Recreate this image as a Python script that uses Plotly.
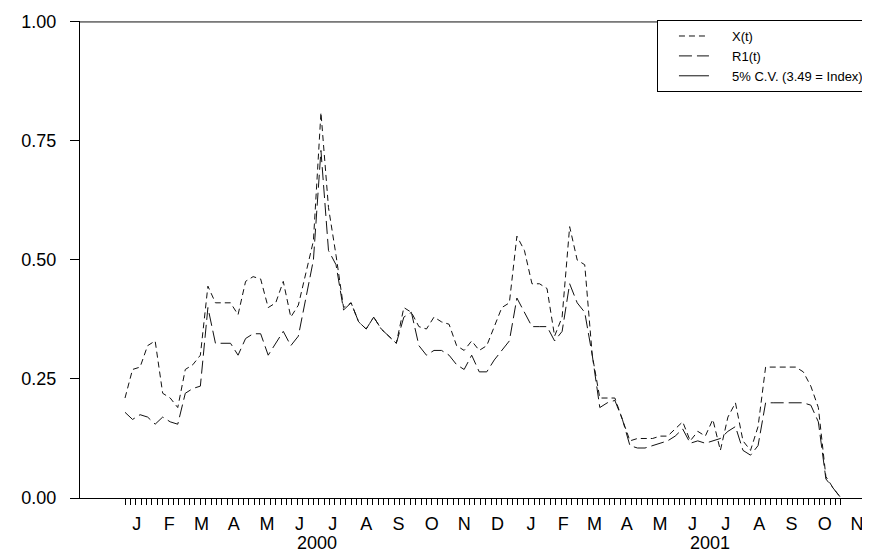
import pandas as pd
import plotly.graph_objects as go

# ---------------- data ----------------
start_date = "2000-01-05"
end_date = "2001-10-31"
n_weeks = 96

x_t = [0.21, 0.27, 0.275, 0.32, 0.33, 0.22, 0.21, 0.19, 0.27, 0.28,
       0.30, 0.445, 0.41, 0.41, 0.41, 0.385, 0.455, 0.465, 0.46, 0.40,
       0.41, 0.455, 0.38, 0.405, 0.47, 0.54, 0.81, 0.61, 0.51, 0.40,
       0.41, 0.37, 0.355, 0.38, 0.355, 0.34, 0.325, 0.40, 0.39, 0.36,
       0.355, 0.38, 0.37, 0.365, 0.32, 0.31, 0.33, 0.31, 0.32, 0.36,
       0.40, 0.41, 0.55, 0.52, 0.45, 0.45, 0.44, 0.34, 0.38, 0.57,
       0.50, 0.49, 0.30, 0.21, 0.21, 0.21, 0.165, 0.12, 0.125, 0.125,
       0.125, 0.13, 0.13, 0.145, 0.16, 0.12, 0.14, 0.13, 0.165, 0.10,
       0.17, 0.20, 0.12, 0.10, 0.15, 0.275, 0.275, 0.275, 0.275, 0.275,
       0.265, 0.235, 0.19, 0.045, 0.02, 0.0]

r1_t = [0.18, 0.165, 0.175, 0.17, 0.155, 0.17, 0.16, 0.155, 0.22, 0.23,
        0.235, 0.40, 0.325, 0.325, 0.325, 0.30, 0.335, 0.345, 0.345, 0.30,
        0.325, 0.35, 0.32, 0.34, 0.42, 0.50, 0.73, 0.52, 0.49, 0.395,
        0.41, 0.37, 0.355, 0.38, 0.355, 0.34, 0.325, 0.38, 0.39, 0.32,
        0.30, 0.31, 0.31, 0.30, 0.28, 0.27, 0.30, 0.265, 0.265, 0.29,
        0.31, 0.33, 0.42, 0.39, 0.36, 0.36, 0.36, 0.33, 0.35, 0.45,
        0.41, 0.39, 0.30, 0.19, 0.20, 0.205, 0.165, 0.11, 0.105, 0.105,
        0.11, 0.115, 0.12, 0.13, 0.145, 0.115, 0.12, 0.115, 0.12, 0.125,
        0.14, 0.15, 0.10, 0.09, 0.11, 0.20, 0.20, 0.20, 0.20, 0.20,
        0.20, 0.195, 0.16, 0.04, 0.02, 0.0]

cv_level = 1.0

series_names = ["X(t)", "R1(t)", "5% C.V. (3.49 = Index)"]

month_labels = ["J", "F", "M", "A", "M", "J", "J", "A", "S", "O", "N", "D",
                "J", "F", "M", "A", "M", "J", "J", "A", "S", "O", "N"]
month_dates = ["2000-01-16", "2000-02-15", "2000-03-16", "2000-04-15", "2000-05-16",
               "2000-06-15", "2000-07-16", "2000-08-16", "2000-09-15", "2000-10-16",
               "2000-11-15", "2000-12-16", "2001-01-16", "2001-02-15", "2001-03-16",
               "2001-04-15", "2001-05-16", "2001-06-15", "2001-07-16", "2001-08-16",
               "2001-09-15", "2001-10-16", "2001-11-15"]
year_labels = ["2000", "2001"]
year_dates = ["2000-07-01", "2001-07-01"]

y_ticks = [0.0, 0.25, 0.5, 0.75, 1.0]
y_ticktext = ["0.00", "0.25", "0.50", "0.75", "1.00"]

# ---------------- figure ----------------
dates = pd.date_range(start_date, periods=n_weeks, freq="7D")
tick_dates = pd.date_range(start_date, end_date, freq="5D")
x_lo = pd.Timestamp("2000-01-01") - pd.Timedelta(days=37.8)
x_hi = pd.Timestamp("2000-01-01") + pd.Timedelta(days=703.4)

FONT = "Liberation Sans, Arial, sans-serif"
LINE = "#111111"
PAD = "\u00a0" * 5  # gap between legend sample and its text

fig = go.Figure()
fig.add_trace(go.Scatter(x=dates, y=x_t, mode="lines", name=PAD + series_names[0],
                         line=dict(color=LINE, width=1, dash="6px,4px")))
fig.add_trace(go.Scatter(x=dates, y=r1_t, mode="lines", name=PAD + series_names[1],
                         line=dict(color=LINE, width=1, dash="13px,5px")))
fig.add_trace(go.Scatter(x=[x_lo, x_hi], y=[cv_level, cv_level], mode="lines",
                         name=PAD + series_names[2],
                         line=dict(color=LINE, width=1)))
# invisible trace to carry the month label axis
fig.add_trace(go.Scatter(x=[dates[0]], y=[0], xaxis="x2", mode="lines",
                         showlegend=False, hoverinfo="skip",
                         line=dict(color="rgba(0,0,0,0)")))

for lab, d in zip(year_labels, year_dates):
    fig.add_annotation(x=d, xref="x", y=0, yref="paper", yshift=-45,
                       text=lab, showarrow=False, yanchor="middle",
                       font=dict(family=FONT, size=18, color="#000"))

fig.update_layout(
    width=870, height=552,
    margin=dict(l=72, r=0, t=13, b=62),
    paper_bgcolor="white", plot_bgcolor="white",
    font=dict(family=FONT, size=18, color="#000"),
    showlegend=True,
    legend=dict(x=0.723, y=1.002, xanchor="left", yanchor="top",
                bordercolor="#000", borderwidth=1, bgcolor="white",
                font=dict(family=FONT, size=13, color="#000"),
                itemwidth=30, indentation=16, tracegroupgap=0),
    xaxis=dict(type="date", range=[x_lo, x_hi], showgrid=False, zeroline=False,
               showline=True, linecolor="#000", linewidth=1,
               tickvals=list(tick_dates), ticktext=[""] * len(tick_dates),
               ticks="outside", ticklen=6, tickcolor="#000", tickwidth=1),
    xaxis2=dict(type="date", overlaying="x", matches="x", anchor="y", side="bottom",
                showgrid=False, zeroline=False, showline=False,
                tickvals=month_dates, ticktext=month_labels,
                ticks="outside", ticklen=9, tickcolor="rgba(0,0,0,0)",
                tickfont=dict(family=FONT, size=18, color="#000")),
    yaxis=dict(range=[0, 1.002], showgrid=False, zeroline=False,
               showline=True, linecolor="#000", linewidth=1,
               tickvals=y_ticks, ticktext=y_ticktext,
               ticks="outside", ticklen=9, tickcolor="#000",
               ticklabelstandoff=10,
               tickfont=dict(family=FONT, size=18, color="#000")),
)

fig.write_html("out.html")
